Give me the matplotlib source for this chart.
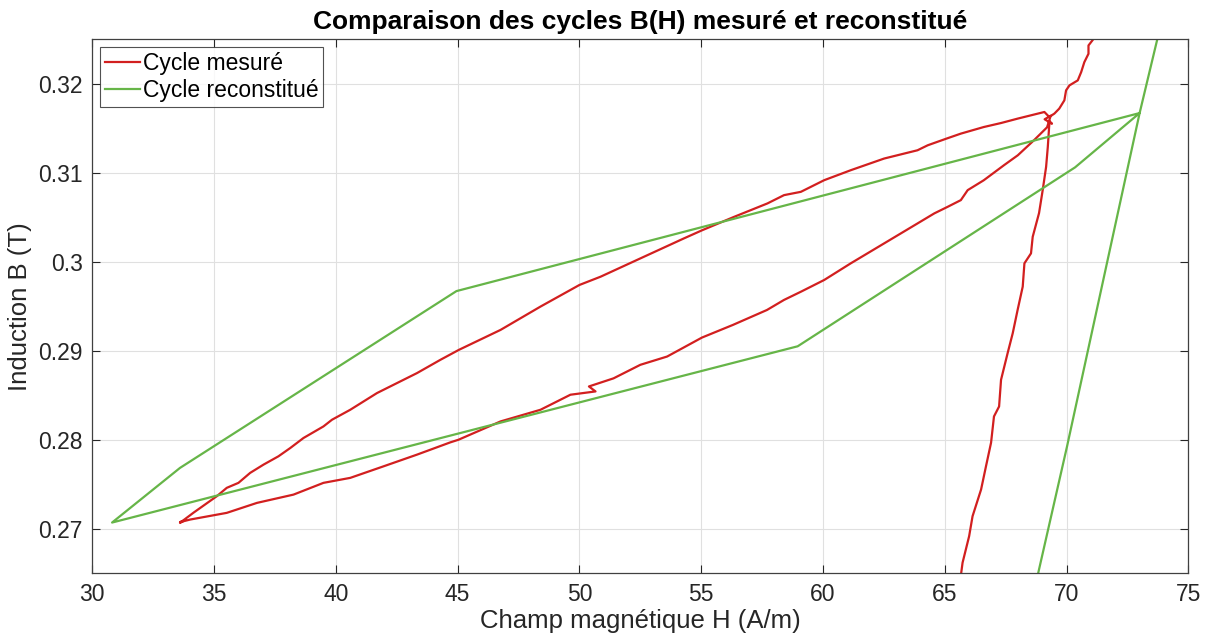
import matplotlib
matplotlib.use("Agg")
import matplotlib.pyplot as plt

# measured cycle (red): top -> knot -> upper branch -> tip -> lower branch -> knot -> steep branch
h_mes = [71.15, 71.08, 70.90, 70.90, 70.73, 70.60, 70.46, 70.12, 69.98, 69.91, 69.70, 69.50, 69.29,
         69.09, 68.0, 67.31, 66.6, 65.66, 65.07, 64.30, 63.88, 62.51, 61.14, 60.05, 59.09, 58.40,
         57.72, 56.35, 55.05, 54.29, 52.65, 50.87, 50.0, 48.4, 46.76, 45.05, 44.29, 43.33, 42.51,
         41.69, 40.59, 39.84, 39.49, 38.67, 38.13, 37.64, 37.03, 36.48, 36.0, 35.52, 35.11, 34.15,
         33.6, 33.75, 33.6,
         34.02, 35.52, 36.76, 38.26, 39.49, 40.59, 41.96, 43.33, 44.70, 45.03, 46.76, 48.4, 49.63,
         50.66, 50.39, 51.4, 52.5, 53.6, 55.03, 56.3, 57.7, 58.4, 59.1, 60.05, 61.14, 62.51, 63.88,
         64.57, 65.12, 65.66, 65.94, 66.6, 67.43, 68.0, 68.66, 69.2, 69.35, 69.1, 69.4, 69.3,
         69.23, 69.16, 69.02, 68.87, 68.61, 68.54, 68.27, 68.2, 67.99, 67.79, 67.58, 67.31, 67.23,
         67.02, 66.9, 66.69, 66.49, 66.14, 66.0, 65.73, 65.6]
b_mes = [0.3260, 0.32493, 0.32429, 0.32336, 0.32242, 0.3213, 0.32037, 0.31981, 0.31925, 0.31813,
         0.3172, 0.31664, 0.31626,
         0.31682, 0.31608, 0.31558, 0.31513, 0.31439, 0.31383, 0.31308, 0.31252, 0.31159, 0.31028,
         0.30916, 0.30785, 0.30748, 0.30655, 0.30504, 0.30355, 0.30262, 0.30056, 0.29832, 0.29739,
         0.29496, 0.29234, 0.2901, 0.28898, 0.28749, 0.28637, 0.28525, 0.28337, 0.28225, 0.2815,
         0.2802, 0.27908, 0.27814, 0.27721, 0.27628, 0.27516, 0.2746, 0.27366, 0.2718,
         0.27067, 0.2709, 0.27075,
         0.27104, 0.27179, 0.27291, 0.27384, 0.27516, 0.27572, 0.27702, 0.27833, 0.27971, 0.2800,
         0.28206, 0.28337, 0.28506, 0.28543, 0.28599, 0.2869, 0.28842, 0.28935, 0.29148, 0.2929,
         0.29458, 0.29571, 0.29664, 0.29795, 0.29982, 0.30206, 0.3043, 0.30543, 0.30617, 0.30692,
         0.30804, 0.30915, 0.31084, 0.31196, 0.31364, 0.3151, 0.3164, 0.3160, 0.3155, 0.3158,
         0.3129, 0.31065, 0.30804, 0.30546, 0.3028, 0.30094, 0.29982, 0.2972, 0.29458, 0.29197,
         0.28973, 0.28674, 0.28374, 0.28262, 0.27967, 0.2770, 0.27441, 0.27141, 0.26917, 0.26619,
         0.2635]

# reconstructed cycle (green)
h_rec = [68.67, 68.87, 70.02, 73.0, 70.35, 58.96, 30.81, 33.6, 44.95, 73.0, 73.72, 73.9]
b_rec = [0.2630, 0.26544, 0.27926, 0.3167, 0.3106, 0.2905, 0.2707, 0.27684, 0.2967, 0.3167,
         0.32493, 0.3270]

plt.rcParams['font.family'] = ['Liberation Sans', 'DejaVu Sans']

fig = plt.figure(figsize=(12.1, 6.42), dpi=100)
ax = fig.add_axes([0.0763, 0.107, 0.9058, 0.832])

ax.plot(h_mes, b_mes, color='#d21f1f', lw=1.6, label='Cycle mesuré')
ax.plot(h_rec, b_rec, color='#66b548', lw=1.6, label='Cycle reconstitué')

ax.set_xlim(30, 75)
ax.set_ylim(0.265, 0.325)
ax.set_xticks(range(30, 76, 5))
ax.set_yticks([0.27, 0.28, 0.29, 0.30, 0.31, 0.32])
ax.set_yticklabels(['0.27', '0.28', '0.29', '0.3', '0.31', '0.32'])

ax.grid(True, color='#e0e0e0', lw=0.8)
ax.set_axisbelow(True)
ax.tick_params(direction='in', top=True, right=True, labelsize=16.5, colors='#262626',
               length=6, width=0.8, pad=7)
for s in ax.spines.values():
    s.set_color('#404040')
    s.set_linewidth(0.9)

ax.set_xlabel('Champ magnétique H (A/m)', fontsize=18.5, color='#262626', labelpad=2)
ax.set_ylabel('Induction B (T)', fontsize=18.5, color='#262626', labelpad=4)
ax.set_title('Comparaison des cycles B(H) mesuré et reconstitué', fontsize=19,
             fontweight='bold', pad=7)

leg = ax.legend(loc='upper left', fontsize=16.5, frameon=True, fancybox=False,
                edgecolor='#262626', handlelength=1.55, handletextpad=0.1,
                borderpad=0.2, labelspacing=0.2, borderaxespad=0.35)
leg.get_frame().set_linewidth(0.8)

fig.savefig('out.png', dpi=100)
